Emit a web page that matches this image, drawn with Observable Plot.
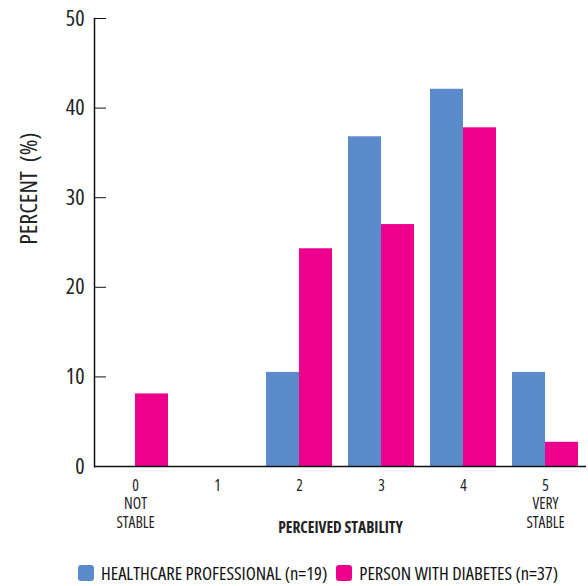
<!DOCTYPE html>
<html>
<head>
<meta charset="utf-8">
<script src="https://cdn.jsdelivr.net/npm/d3@7"></script>
<script src="https://cdn.jsdelivr.net/npm/@observablehq/plot@0.6"></script>
<style>
  body { margin: 0; background: #fff; font-family: "Open Sans", sans-serif; font-stretch: 75%; }
  #chart svg { font-family: "Open Sans", sans-serif; font-stretch: 75%; font-variation-settings: "wdth" 75; display: block; }
  g[aria-label="fx-axis label"] text { font-weight: bold; }
  .legend { display: flex; align-items: center; margin-left: 78px; margin-top: 17px; font-size: 18.5px; color: #111; white-space: nowrap; font-variation-settings: "wdth" 75; line-height: 22px; }
  .legend .sw { width: 16px; height: 16px; border-radius: 3px; display: inline-block; margin-right: 7px; }
  .legend .item { display: flex; align-items: center; margin-right: 9px; }
</style>
</head>
<body>
<div id="chart"></div>
<script>
const categories = ["0", "1", "2", "3", "4", "5"];
const categoryLabels = ["0\nNOT\nSTABLE", "1", "2", "3", "4", "5\nVERY\nSTABLE"];
const seriesNames = ["HEALTHCARE PROFESSIONAL (n=19)", "PERSON WITH DIABETES (n=37)"];
const seriesColors = ["#5b8bcb", "#ec008c"];
const hcpValues = [0, 0, 10.5, 36.8, 42.1, 10.5];
const pwdValues = [8.1, 0, 24.3, 27.0, 37.8, 2.7];
const yTicks = [0, 10, 20, 30, 40, 50];
const yLabel = "PERCENT  (%)";
const xLabel = "PERCEIVED STABILITY";

const data = [];
categories.forEach((c, i) => {
  data.push({cat: c, series: seriesNames[0], value: hcpValues[i]});
  data.push({cat: c, series: seriesNames[1], value: pwdValues[i]});
});
const labelMap = new Map(categories.map((c, i) => [c, categoryLabels[i]]));

const plot = Plot.plot({
  width: 588,
  height: 545,
  marginLeft: 92,
  marginRight: 0,
  marginTop: 18,
  marginBottom: 79,
  style: {fontSize: "16px", color: "#222"},
  fx: {domain: categories, paddingInner: 0, paddingOuter: 0},
  x: {domain: seriesNames, paddingInner: 0, paddingOuter: 0.24, axis: null},
  y: {domain: [0, 50]},
  color: {domain: seriesNames, range: seriesColors},
  marks: [
    Plot.barY(data, {fx: "cat", x: "series", y: "value", fill: "series"}),
    Plot.ruleY([0], {stroke: "#111", strokeWidth: 1.5}),
    Plot.axisY({ticks: yTicks, tickSize: -12, tickPadding: 22, fontSize: 22, label: null, stroke: "#111"}),
    Plot.frame({anchor: "left", facetAnchor: "left", stroke: "#111", strokeWidth: 1.5}),
    Plot.axisFx({anchor: "bottom", tickSize: 0, tickPadding: 11, lineHeight: 1.2, fontSize: 15.5,
      tickFormat: d => labelMap.get(d), label: xLabel, labelAnchor: "center", labelOffset: 66}),
    Plot.text([{cat: "0"}], {fx: "cat", frameAnchor: "left", textAnchor: "middle", y: 31.0, text: () => yLabel, rotate: -90, dx: -65, fontSize: 24, fill: "#222"})
  ]
});

document.getElementById("chart").appendChild(plot);

const legend = document.createElement("div");
legend.className = "legend";
seriesNames.forEach((s, i) => {
  const item = document.createElement("span");
  item.className = "item";
  const sw = document.createElement("span");
  sw.className = "sw";
  sw.style.background = seriesColors[i];
  item.appendChild(sw);
  item.appendChild(document.createTextNode(s));
  legend.appendChild(item);
});
document.getElementById("chart").appendChild(legend);
</script>
</body>
</html>
